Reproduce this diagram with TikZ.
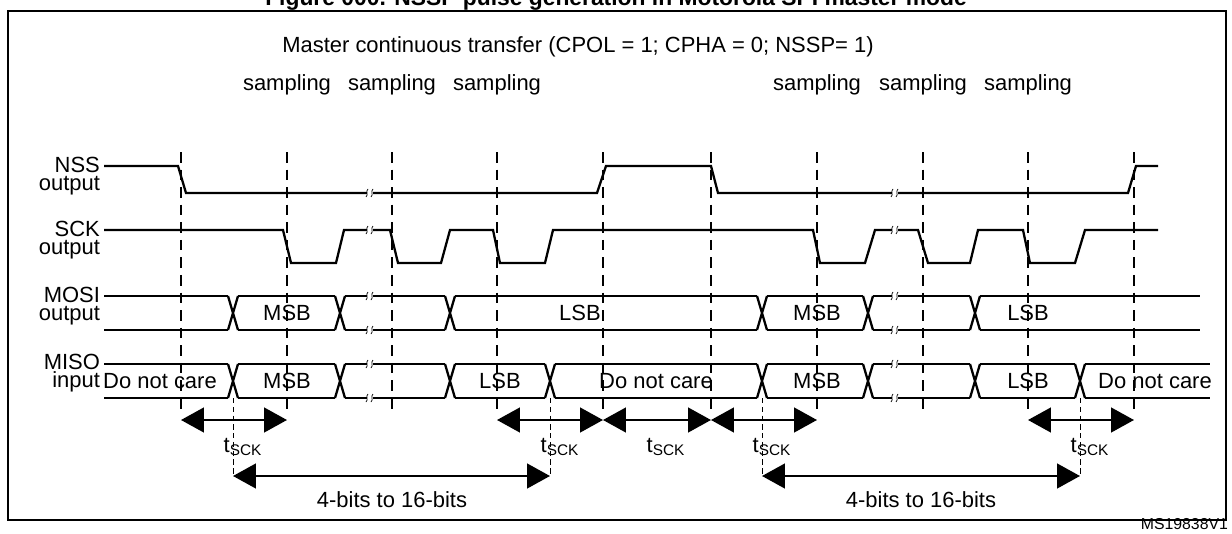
\documentclass[tikz,border=0pt]{standalone}
\usepackage{fontspec}
\setmainfont{Liberation Sans}
\usetikzlibrary{arrows.meta,positioning}
\tikzset{
  sig/.style={line width=1.3pt},
  edgeline/.style={thick,dash pattern=on 6pt off 4pt},
  tick/.style={densely dashed,thin},
  dim/.style={line width=1.3pt,{Triangle[length=13pt,width=14pt]}-{Triangle[length=13pt,width=14pt]}},
  lbl/.style={font=\fontsize{12.5}{12.5}\selectfont,inner sep=1pt},
  nm/.style={font=\fontsize{12.5}{10}\selectfont,align=right,inner sep=1pt,anchor=east}
}
\begin{document}
\begin{tikzpicture}[x=0.02cm,y=-0.02cm]
\useasboundingbox (0,0) rectangle (1232,534);
\node[font=\bfseries\fontsize{13}{13}\selectfont,anchor=base] (title) at (616,6) {Figure 000. NSSP pulse generation in Motorola SPI master mode};
\draw[thick] (8,11) rectangle (1226,520);
\node[lbl] (head) at (578,47) {Master continuous transfer (CPOL = 1; CPHA = 0; NSSP= 1)};
\node[font=\fontsize{9}{9}\selectfont,anchor=south east,inner sep=1pt] (ref) at (1230,532) {MS19838V1};
% sampling edges
\foreach \x in {181,287,392,497,603,711,817,923,1028,1134}
  \draw[edgeline] (\x,152) -- (\x,412);
\foreach \x in {287,392,497,817,923,1028}
  \node[lbl] at (\x,85) {sampling};
% signal names
\node[nm] (nss) at (102,176) {NSS\\output};
\node[nm] (sck) at (102,240) {SCK\\output};
\node[nm] (mosi) at (102,306) {MOSI\\output};
\node[nm] (miso) at (102,373) {MISO\\input};
% NSS
\draw[sig] (104,166) -- (178,166) -- (186,193) -- (597,193) -- (606,166) -- (711,166)
  -- (718,193) -- (1128,193) -- (1136,166) -- (1158,166);
% SCK
\draw[sig] (104,230) -- (283,230) -- (291,263) -- (336,263) -- (344,230) -- (390,230)
  -- (398,263) -- (441,263) -- (450,230) -- (493,230) -- (500,263) -- (545,263)
  -- (553,230) -- (813,230) -- (820,263) -- (865,263) -- (875,230) -- (918,230)
  -- (928,263) -- (970,263) -- (978,230) -- (1023,230) -- (1030,263) -- (1075,263)
  -- (1085,230) -- (1158,230);
% MOSI bus
\foreach \a/\b in {104/228,238/335,345/445,455/757,767/863,873/970,980/1200}
  \draw[sig] (\a,296) -- (\b,296) (\a,330) -- (\b,330);
\foreach \c in {233,340,450,762,868,975}
  \draw[sig] (\c-5,296) -- (\c+5,330) (\c-5,330) -- (\c+5,296);
% MISO bus
\foreach \a/\b in {104/228,238/335,345/445,455/545,555/757,767/863,873/970,980/1075,1085/1210}
  \draw[sig] (\a,364) -- (\b,364) (\a,398) -- (\b,398);
\foreach \c in {233,340,450,550,762,868,975,1080}
  \draw[sig] (\c-5,364) -- (\c+5,398) (\c-5,398) -- (\c+5,364);
% breaks
\foreach \x/\y in {370/193,370/230,370/296,370/330,370/364,370/398,895/193,895/230,895/296,895/330,895/364,895/398} {
  \fill[white] (\x-3,\y-3) rectangle (\x+3,\y+3);
  \draw[thin] (\x-4,\y+4) .. controls (\x-1,\y+1) and (\x-5,\y-1) .. (\x-2,\y-4);
  \draw[thin] (\x+1,\y+4) .. controls (\x+4,\y+1) and (\x,\y-1) .. (\x+3,\y-4);
}
% bus data
\foreach \x/\t in {287/MSB,580/LSB,817/MSB,1028/LSB}
  \node[lbl] at (\x,313) {\t};
\foreach \x/\t in {160/Do not care,287/MSB,500/LSB,656/Do not care,817/MSB,1028/LSB,1155/Do not care}
  \node[lbl] at (\x,381) {\t};
% timing
\foreach \x in {233,550,762,1080}
  \draw[tick] (\x,398) -- (\x,476);
\foreach \a/\b in {181/287,497/603,603/711,711/817,1028/1134}
  \draw[dim] (\a,420) -- (\b,420);
\foreach \x in {233,550,656,762,1080}
  \node[lbl] at (\x+10,447) {t\textsubscript{SCK}};
\draw[dim] (233,476) -- (550,476);
\draw[dim] (762,476) -- (1080,476);
\node[lbl] (w1) at (392,500) {4-bits to 16-bits};
\node[lbl] (w2) at (921,500) {4-bits to 16-bits};
\end{tikzpicture}
\end{document}
